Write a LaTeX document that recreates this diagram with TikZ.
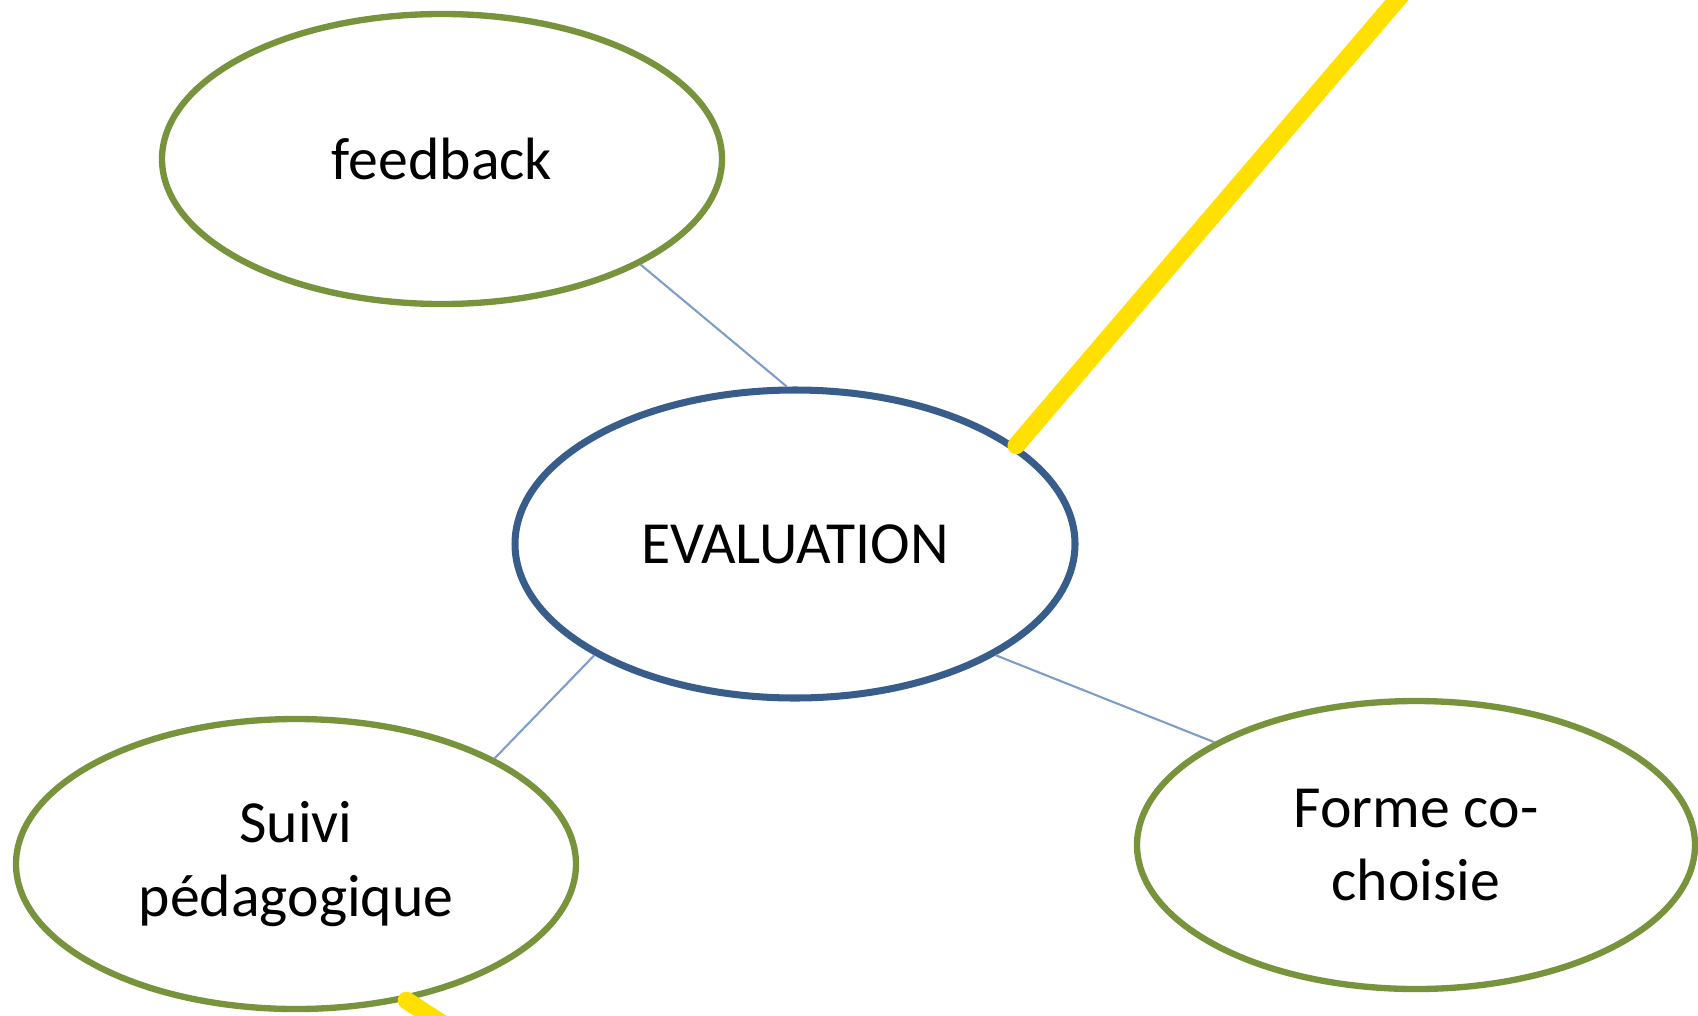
\documentclass[tikz,border=0pt]{standalone}
\usepackage{fontspec}
\setmainfont{Carlito}
\usepackage{tikz}
\usetikzlibrary{shapes.geometric, positioning}
\definecolor{olivegreen}{HTML}{77933C}
\definecolor{darkblue}{HTML}{385D8A}
\definecolor{lineblue}{HTML}{7F9DC6}
\definecolor{markyellow}{HTML}{FFE000}

\begin{document}
\begin{tikzpicture}[
        bubble/.style={draw=olivegreen, line width=1.8pt, ellipse, inner sep=0pt, minimum width=5.6cm, minimum height=2.9cm, align=center, font=\fontsize{17}{21}\selectfont},
        link/.style={draw=lineblue, line width=0.6pt},
        marker/.style={draw=markyellow, line width=5pt, line cap=round}
        ]
        \clip (0,0) rectangle (16.98,10.15);

        % Nodes
        \node[bubble, draw=darkblue, line width=2pt, minimum height=3.08cm] (eval) at (7.95,4.71) {EVALUATION};
        \node[bubble] (feedback) at (4.42,8.56) {feedback};
        \node[bubble] (suivi) at (2.96,1.51) {Suivi\\pédagogique};
        \node[bubble, minimum width=5.58cm, minimum height=2.88cm] (forme) at (14.16,1.70) {Forme co-\\choisie};
        \coordinate (topend) at (14.14,10.35);
        \coordinate (bottomend) at (4.60,-0.20);

        % Lines
        \draw[link] (feedback.-28) -- (eval.93);
        \draw[link] (eval.209) -- (suivi.28);
        \draw[link] (eval.-29) -- (forme.153);
        \draw[marker] (eval.24) -- (topend);
        \draw[marker] (suivi.-51) -- (bottomend);

        \end{tikzpicture}
\end{document}
